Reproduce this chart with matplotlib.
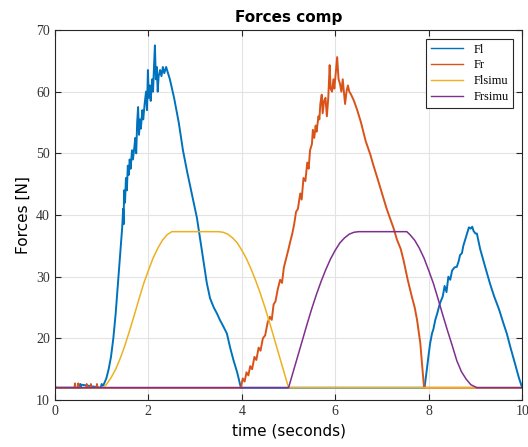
import numpy as np
import matplotlib
matplotlib.use('Agg')
import matplotlib.pyplot as plt

# measured force Fl (left)
t_fl = [0, 0.53, 0.54, 0.55, 0.56, 0.98, 1.0, 1.03, 1.06, 1.1, 1.15, 1.2, 1.25, 1.3, 1.35, 1.4,
        1.44, 1.46, 1.47, 1.48, 1.5, 1.52, 1.54, 1.56, 1.58, 1.6, 1.62, 1.65, 1.67, 1.7,
        1.72, 1.74, 1.76, 1.78, 1.8, 1.82, 1.84, 1.87, 1.89, 1.92, 1.95, 1.97, 1.99, 2.01,
        2.03, 2.05, 2.08, 2.1, 2.12, 2.14, 2.16, 2.18, 2.2, 2.22, 2.25, 2.28, 2.31, 2.34,
        2.38, 2.42, 2.46, 2.55, 2.65, 2.74, 2.83, 2.9, 2.97, 3.04, 3.1, 3.18, 3.25, 3.32,
        3.4, 3.47, 3.53, 3.6, 3.68, 3.75, 3.82, 3.9, 3.98,
        7.91, 7.96, 8.0, 8.03, 8.07, 8.1, 8.14, 8.18, 8.24, 8.3, 8.34, 8.38, 8.42, 8.46,
        8.5, 8.55, 8.6, 8.64, 8.67, 8.71, 8.74, 8.78, 8.82, 8.86, 8.9, 8.93, 8.96, 9.0,
        9.03, 9.1, 9.2, 9.31, 9.4, 9.5, 9.6, 9.67, 9.75, 9.85, 9.93, 10.0]
fl = [12, 12, 12.6, 12, 12.5, 12, 12.6, 12.3, 12.8, 13.5, 15, 17, 20, 24, 29, 34,
      38, 41, 38.5, 44, 42, 46, 44, 48, 46.5, 49, 47.5, 50.5, 49, 51,
      52.5, 50, 55, 57.5, 53, 55.5, 54, 57, 55.5, 58, 60, 57, 63.5, 59,
      61, 58.5, 62, 60, 64, 67.5, 62, 64, 60, 62.5, 63.5, 62.5, 64, 63,
      64, 63, 62, 59, 55, 50.5, 47, 44.5, 42, 39.5, 36.5, 32.5, 29, 26.5,
      25, 24, 23, 22, 20.8, 18.5, 16.5, 14.5, 12,
      12, 15, 17.5, 19.2, 20.8, 21.5, 23, 24, 25.7, 26.8, 28.5, 27.5, 30, 29.5,
      31, 31.5, 31.6, 32.5, 33.5, 33.8, 35, 36, 37, 38, 37.8, 38.1, 37.4, 37,
      37, 34.5, 31.8, 28.9, 26.8, 24.8, 22.4, 20.8, 18.5, 15.8, 13.6, 12]

# measured force Fr (right)
t_fr = [0, 0.02, 0.42, 0.43, 0.44, 0.49, 0.5, 0.51, 0.67, 0.68, 0.69, 0.76, 0.77, 0.78,
        0.89, 0.9, 0.91, 3.98, 4.02, 4.06, 4.1, 4.14, 4.18, 4.22, 4.27, 4.31, 4.36, 4.4,
        4.45, 4.5, 4.55, 4.6, 4.64, 4.68, 4.72, 4.77, 4.82, 4.86, 4.9, 4.95, 5.0, 5.03,
        5.08, 5.12, 5.16, 5.2, 5.25, 5.28, 5.32, 5.36, 5.4, 5.43, 5.46, 5.5, 5.52, 5.55,
        5.58, 5.6, 5.64, 5.66, 5.68, 5.71, 5.73, 5.76, 5.79, 5.82, 5.85, 5.88, 5.9, 5.93,
        5.96, 5.98, 6.01, 6.04, 6.07, 6.1, 6.13, 6.16, 6.19, 6.21, 6.24, 6.27, 6.3, 6.34,
        6.4, 6.47, 6.55, 6.65, 6.75, 6.81, 6.9, 7.0, 7.1, 7.17, 7.25, 7.32, 7.4, 7.46,
        7.55, 7.64, 7.7, 7.75, 7.82, 7.86, 7.9, 10.0]
fr = [12.4, 12, 12, 12.7, 12, 12, 12.7, 12, 12, 12.6, 12, 12, 12.6, 12,
      12, 12.6, 12, 12, 13.5, 13, 14.5, 14, 15.5, 15, 17, 16.5, 18.5, 18,
      20, 20.5, 22.5, 23.5, 23, 25.5, 26, 28, 29.5, 29, 31.5, 33, 34.5, 35.5,
      37, 38.5, 40.5, 41, 43.5, 42.5, 46, 45.5, 48.5, 47.5, 50.5, 51.5, 53.8, 52.5,
      54.5, 53.5, 56, 55.5, 58, 59.5, 56.5, 58.5, 59, 56, 59, 64.3, 60.5, 60,
      62, 60.5, 63, 65.6, 62, 61.3, 60, 62, 59.5, 58, 60, 61, 60, 59.5,
      58.5, 57, 55, 52, 49.8, 48.2, 46, 43.5, 41, 39.5, 37.8, 36, 34.5, 32.7,
      29.5, 26.7, 25, 23, 19.2, 15.5, 12, 12]

# simulated forces
t_flsimu = [0, 1.03, 1.1, 1.2, 1.3, 1.4, 1.5, 1.6, 1.7, 1.8, 1.9, 2.0, 2.1, 2.2, 2.3, 2.4, 2.5,
            3.5, 3.6, 3.7, 3.8, 3.9, 4.0, 4.1, 4.2, 4.3, 4.4, 4.5, 4.6, 4.7, 4.8, 4.9, 5.0, 10.0]
flsimu = [12, 12, 12.5, 13.6, 15, 16.8, 18.9, 21.3, 23.8, 26.4, 28.9, 31, 33, 34.6, 35.9, 36.8, 37.3,
          37.3, 37.2, 36.9, 36.3, 35.5, 34.3, 32.9, 31.2, 29.3, 27.2, 24.9, 22.4, 19.8, 17.2, 14.6, 12, 12]

t_frsimu = [0, 5.0, 5.1, 5.2, 5.3, 5.4, 5.5, 5.6, 5.7, 5.8, 5.9, 6.0, 6.1, 6.2, 6.3, 6.4, 6.5,
            7.53, 7.6, 7.7, 7.8, 7.9, 8.0, 8.1, 8.2, 8.3, 8.4, 8.5, 8.6, 8.7, 8.8, 8.9, 9.03, 10.0]
frsimu = [12, 12, 14.6, 17.2, 19.8, 22.4, 24.9, 27.2, 29.3, 31.2, 32.9, 34.3, 35.5, 36.3, 36.9, 37.2, 37.3,
          37.3, 36.8, 35.9, 34.6, 33, 31, 28.9, 26.4, 23.8, 21.3, 18.9, 16.4, 14.6, 13.4, 12.5, 12, 12]

plt.figure(figsize=(5.28, 4.47), dpi=100)
ax = plt.axes([0.104, 0.105, 0.885, 0.828])

ax.plot(t_fl, fl, color='#0072BD', lw=1.4, label='Fl')
ax.plot(t_fr, fr, color='#D95319', lw=1.4, label='Fr')
ax.plot(t_flsimu, flsimu, color='#EDB120', lw=1.1, label='Flsimu')
ax.plot(t_frsimu, frsimu, color='#7E2F8E', lw=1.1, label='Frsimu')

ax.set_xlim(0, 10)
ax.set_ylim(10, 70)
ax.set_xticks([0, 2, 4, 6, 8, 10])
ax.set_yticks([10, 20, 30, 40, 50, 60, 70])
ax.grid(True, color='#e3e3e3', lw=0.8)
ax.set_axisbelow(True)
ax.tick_params(direction='in', top=True, right=True, length=4, width=0.8,
               colors='#262626', labelcolor='#333333')
for lab in ax.get_xticklabels() + ax.get_yticklabels():
    lab.set_family('Liberation Serif')
    lab.set_fontsize(10)
for s in ax.spines.values():
    s.set_color('#262626')
    s.set_linewidth(0.8)

ax.set_title('Forces comp', fontweight='bold', fontsize=11)
ax.set_xlabel('time (seconds)', fontsize=11)
ax.set_ylabel('Forces [N]', fontsize=11)

leg = ax.legend(loc='upper right', prop={'family': 'Liberation Serif', 'size': 9},
                fancybox=False, edgecolor='#262626', framealpha=1, handlelength=2.6,
                borderaxespad=0.7, labelspacing=0.3)
leg.get_frame().set_linewidth(0.8)
for line in leg.get_lines():
    line.set_linewidth(1.0)

plt.savefig('out.png', dpi=100)
